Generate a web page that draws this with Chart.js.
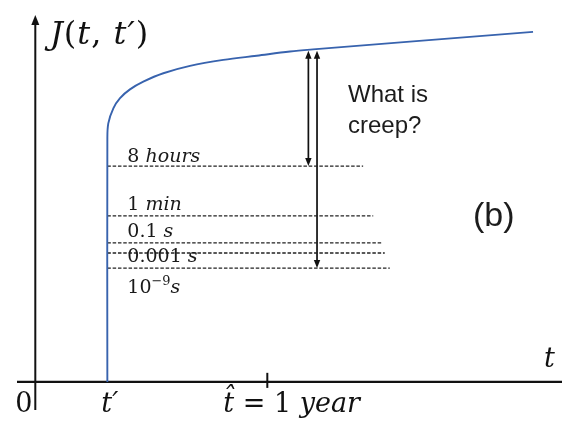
<!DOCTYPE html>
<html><head><meta charset="utf-8">
<style>html,body{margin:0;padding:0;background:#fff}#wrap{width:562px;height:424px;position:relative}</style>
<script src="https://cdn.jsdelivr.net/npm/chart.js@4/dist/chart.umd.min.js"></script>
</head><body><div id="wrap"><canvas id="c"></canvas></div>
<script>
// ---- data (schematic units: t' = 1) ----
const curveT = [1, 1, 1.013, 1.083, 1.176, 1.314, 1.499, 1.777, 2.147, 2.609, 3.073, 3.535, 3.854, 5.242, 6.908];
const curveJ = [0, 6.9, 7.38, 7.81, 8.1, 8.35, 8.57, 8.81, 9.02, 9.19, 9.31, 9.43, 9.49, 9.72, 9.99];
const levelNames = ['8 hours', '1 min', '0.1 s', '0.001 s', '10^-9 s'];
const levelJ = [6.16, 4.74, 3.97, 3.68, 3.25];
const levelEnd = [4.55, 4.69, 4.81, 4.85, 4.92];
const tLoad = 1;          // t'
const tHat = 3.22;        // t-hat = 1 year
const arrowT = [3.79, 3.91];
const arrowTop = [9.45, 9.45];
const arrowBottom = [6.16, 3.25];
const xAxisFrom = -0.254, xAxisTo = 7.31;
const yAxisFrom = -0.8, yAxisTo = 10.47;

const seg = (a, b) => [a, b];
const datasets = [];
datasets.push({data: curveT.map((t, i) => ({x: t, y: curveJ[i]})), borderColor: '#3863ae', borderWidth: 1.9, tension: 0.35, pointRadius: 0});
levelJ.forEach((j, i) => datasets.push({data: seg({x: tLoad, y: j}, {x: levelEnd[i], y: j}), borderColor: '#222', borderWidth: 1.3, borderDash: [3.5, 1.8], pointRadius: 0}));
datasets.push({data: seg({x: xAxisFrom, y: 0}, {x: xAxisTo, y: 0}), borderColor: '#111', borderWidth: 2.2, pointRadius: 0});
datasets.push({data: seg({x: 0, y: yAxisFrom}, {x: 0, y: yAxisTo - 0.2}), borderColor: '#111', borderWidth: 2, pointRadius: 0});
datasets.push({data: seg({x: tHat, y: -0.17}, {x: tHat, y: 0.26}), borderColor: '#111', borderWidth: 2, pointRadius: 0});
arrowT.forEach((t, i) => datasets.push({data: seg({x: t, y: arrowTop[i] - 0.15}, {x: t, y: arrowBottom[i] + 0.15}), borderColor: '#111', borderWidth: 1.7, pointRadius: 0}));

function head(ctx, x, y, dir, len, hw) {
  ctx.beginPath();
  ctx.moveTo(x, y);
  ctx.lineTo(x - hw, y - dir * len);
  ctx.lineTo(x + hw, y - dir * len);
  ctx.closePath();
  ctx.fill();
}
function rich(ctx, x, y, parts, size) {
  let cx = x;
  parts.forEach(p => {
    let sz = size, dy = 0;
    if (p[1] === 'sup') { sz = size * 0.68; dy = -size * 0.42; }
    ctx.font = (p[1] === 'i' ? 'italic ' : '') + sz + 'px "DejaVu Serif"';
    ctx.fillText(p[0], cx, y + dy);
    cx += ctx.measureText(p[0]).width;
  });
}
function labelParts(name) {
  if (name.indexOf('^') >= 0) {
    const m = name.split(/[\^ ]/);
    return [[m[0], 'n'], [m[1].replace('-', '\u2212'), 'sup'], [m[2], 'i']];
  }
  const sp = name.indexOf(' ');
  return [[name.slice(0, sp), 'n'], [name.slice(sp), 'i']];
}

const decor = {
  id: 'decor',
  afterDatasetsDraw(chart) {
    const ctx = chart.ctx, xs = chart.scales.x, ys = chart.scales.y;
    const X = v => xs.getPixelForValue(v), Y = v => ys.getPixelForValue(v);
    ctx.save();
    ctx.fillStyle = '#111';
    head(ctx, X(0), Y(yAxisTo), -1, 10, 4);
    arrowT.forEach((t, i) => {
      head(ctx, X(t), Y(arrowTop[i]), -1, 8, 3.2);
      head(ctx, X(t), Y(arrowBottom[i]), 1, 8, 3.2);
    });
    const offs = [-4, -6, -6, 9, 25];
    ctx.fillStyle = '#1a1a1a';
    ctx.textBaseline = 'alphabetic';
    levelNames.forEach((n, i) => rich(ctx, X(tLoad) + 20, Y(levelJ[i]) + offs[i], labelParts(n), 19));
    ctx.fillStyle = '#111';
    ctx.textAlign = 'left';
    ctx.letterSpacing = '1px';
    rich(ctx, 50, 44, [['J', 'i'], ['(', 'n'], ['t', 'i'], [', ', 'n'], ['t\u2032', 'i'], [')', 'n']], 32);
    ctx.letterSpacing = '0px';
    rich(ctx, X(0) - 20, 412, [['0', 'n']], 27);
    rich(ctx, X(tLoad) - 6, 412, [['t\u2032', 'i']], 27);
    rich(ctx, X(tHat) - 44, 412, [['t\u0302', 'i'], [' = 1 ', 'n'], ['year', 'i']], 27);
    rich(ctx, 544, 367, [['t', 'i']], 27);
    ctx.font = '24px "Liberation Sans"';
    ctx.fillStyle = '#1c1c1c';
    ctx.fillText('What is', 348, 102);
    ctx.fillText('creep?', 348, 133);
    ctx.font = '34px "Liberation Sans"';
    ctx.fillText('(b)', 473, 226);
    ctx.restore();
  }
};

new Chart(document.getElementById('c'), {
  type: 'line',
  data: {datasets},
  options: {
    responsive: true, maintainAspectRatio: false, animation: false,
    layout: {padding: 0},
    plugins: {legend: {display: false}, tooltip: {enabled: false}},
    scales: {
      x: {type: 'linear', min: -0.49, max: 7.31, display: false},
      y: {type: 'linear', min: -1.2, max: 10.9, display: false}
    }
  },
  plugins: [decor]
});
</script></body></html>
